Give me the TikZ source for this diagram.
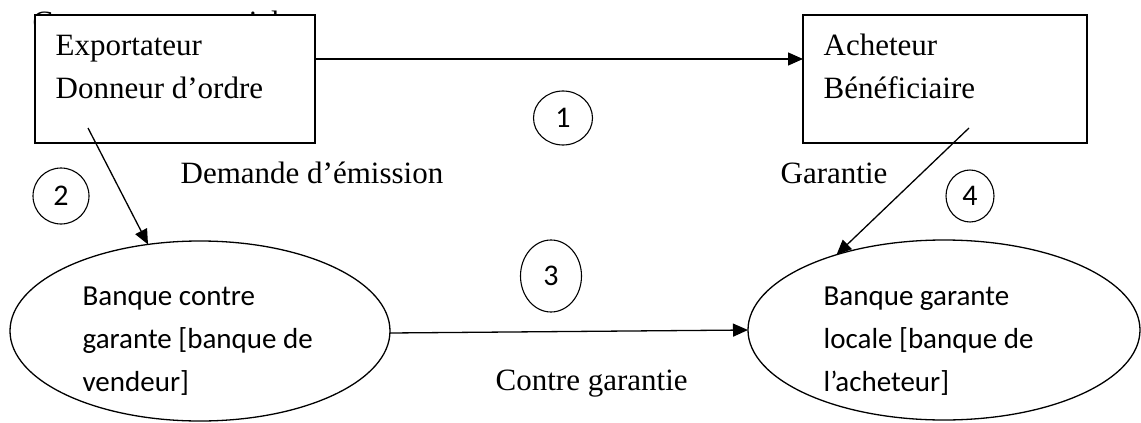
\documentclass[tikz,border=0pt]{standalone}
\usepackage{fontspec}
\setmainfont{Liberation Serif}
\newfontfamily\calibri{Carlito}
\usetikzlibrary{arrows.meta,shapes.geometric}
\begin{document}
\begin{tikzpicture}[x=1pt,y=-1pt,line width=1.3pt,
  tnr/.style={font=\fontsize{31}{36}\selectfont, inner sep=0pt, anchor=base west},
  cal/.style={font=\calibri\fontsize{29}{35}\selectfont, inner sep=0pt, anchor=base west},
  boxnode/.style={draw, fill=white, rectangle, minimum height=128pt, inner sep=0pt, outer sep=0pt},
  bank/.style={draw, ellipse, minimum height=180pt, inner sep=0pt, outer sep=0pt},
  num/.style={draw, ellipse, inner sep=0pt, outer sep=0pt, line width=1.1pt, font=\calibri\fontsize{30}{35}\selectfont},
  arr/.style={-{Triangle[length=15pt,width=13pt]}}]
\useasboundingbox (0,0) rectangle (1141,423);
% partly hidden title
\node[tnr] (hid) at (32,32) {Contrat commercial};
% boxes
\node[boxnode, minimum width=280pt] (box1) at (175,79) {};
\node[boxnode, minimum width=284pt] (box2) at (945,79) {};
\node[tnr] (t1a) at (55,55) {Exportateur};
\node[tnr] (t1b) at (55,98) {Donneur d’ordre};
\node[tnr] (t2a) at (823,55) {Acheteur};
\node[tnr] (t2b) at (823,98) {Bénéficiaire};
% banks
\node[bank, minimum width=380pt] (ell1) at (200,331) {};
\node[bank, minimum width=392pt] (ell2) at (944,330) {};
\node[cal] (e1a) at (82,305) {Banque contre};
\node[cal] (e1b) at (82,348) {garante [banque de};
\node[cal] (e1c) at (82,391) {vendeur]};
\node[cal] (e2a) at (823,305) {Banque garante};
\node[cal] (e2b) at (823,348) {locale [banque de};
\node[cal] (e2c) at (823,391) {l’acheteur]};
% numbered circles
\node[num, minimum width=59pt, minimum height=54pt] (c1) at (563,118) {1};
\node[num, minimum width=56pt, minimum height=56pt] (c2) at (61,196) {2};
\node[num, minimum width=61pt, minimum height=72pt] (c3) at (551,276) {3};
\node[num, minimum width=48pt, minimum height=52pt] (c4) at (970,196) {4};
% labels
\node[tnr] (l1) at (180,183) {Demande d’émission};
\node[tnr] (l2) at (780,183) {Garantie};
\node[tnr] (l3) at (495,390) {Contre garantie};
% connectors
\draw[arr] ([yshift=20pt]box1.east) -- ([yshift=20pt]box2.west);
\draw[arr] ([xshift=-87pt,yshift=-49pt]box1.center) -- (ell1.121.6);
\draw[arr] ([yshift=-2pt]ell1.east) -- (ell2.west);
\draw[arr] ([xshift=24pt,yshift=-49pt]box2.center) -- (ell2.145);
\end{tikzpicture}
\end{document}
